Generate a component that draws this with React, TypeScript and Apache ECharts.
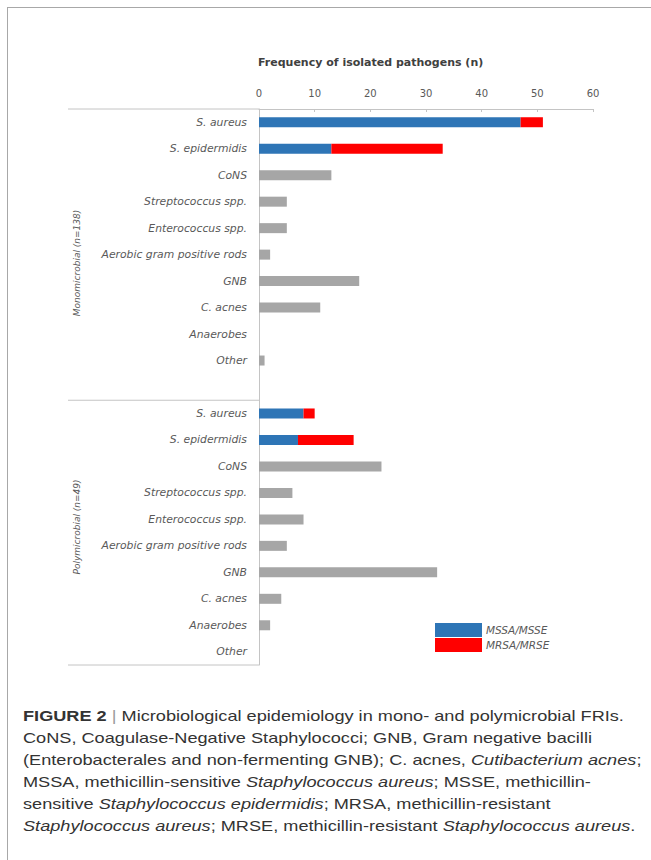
import React, { useEffect, useRef } from "react";
import * as echarts from "echarts";

// ---- data ----
const pathogenLabels = [
  "S. aureus",
  "S. epidermidis",
  "CoNS",
  "Streptococcus spp.",
  "Enterococcus spp.",
  "Aerobic gram positive rods",
  "GNB",
  "C. acnes",
  "Anaerobes",
  "Other",
];
const groupLabels = ["Monomicrobial (n=138)", "Polymicrobial (n=49)"];
const seriesNames = ["MSSA/MSSE", "MRSA/MRSE"];
// S. aureus, S. epidermidis
const monoSensitive = [47, 13];
const monoResistant = [4, 20];
// CoNS .. Other
const monoOtherCounts = [13, 5, 5, 2, 18, 11, 0, 1];
const polySensitive = [8, 7];
const polyResistant = [2, 10];
const polyOtherCounts = [22, 6, 8, 5, 32, 4, 2, 0];
const xTicks = { min: 0, max: 60, interval: 10 };
const titleText = "Frequency of isolated pathogens (n)";

// ---- build ----
const categories = [...pathogenLabels, "", ...pathogenLabels];
const dash = (n: number) => Array.from({ length: n }, () => "-" as any);
const sensitiveData = [...monoSensitive, ...dash(8), "-", ...polySensitive, ...dash(8)];
const resistantData = [...monoResistant, ...dash(8), "-", ...polyResistant, ...dash(8)];
const grayData = [...dash(2), ...monoOtherCounts, "-", ...dash(2), ...polyOtherCounts];

const GRID = { left: 259, top: 109, width: 334, height: 556 };
const LABEL_LEFT = 68;
const FONT = "'DejaVu Sans', sans-serif";
const LINE = "#c4c4c4";
const TEXT = "#595959";

function Chart() {
  const ref = useRef<HTMLDivElement>(null);
  useEffect(() => {
    if (!ref.current) return;
    const chart = echarts.init(ref.current, undefined, { renderer: "svg" });
    const slot = GRID.height / categories.length;
    const sepY = GRID.top + slot * (pathogenLabels.length + 1);
    const bottomY = GRID.top + GRID.height;
    chart.setOption({
      animation: false,
      title: {
        text: titleText,
        left: 258,
        top: 57,
        padding: 0,
        textStyle: { fontFamily: FONT, fontWeight: "bold", fontSize: 11, color: "#404040" },
      },
      legend: {
        data: seriesNames,
        orient: "vertical",
        left: 435,
        top: 623,
        padding: 0,
        itemWidth: 47,
        itemHeight: 14,
        itemGap: 1,
        icon: "rect",
        textStyle: { fontFamily: FONT, fontStyle: "italic", fontSize: 10.5, color: TEXT, padding: [0, 0, 0, -1] },
      },
      grid: { left: GRID.left, top: GRID.top, width: GRID.width, height: GRID.height, containLabel: false },
      xAxis: {
        type: "value",
        position: "top",
        min: xTicks.min,
        max: xTicks.max,
        interval: xTicks.interval,
        axisLine: { show: true, lineStyle: { color: LINE, width: 1 } },
        axisTick: { show: true, inside: true, length: 3, lineStyle: { color: LINE } },
        splitLine: { show: false },
        axisLabel: { color: TEXT, fontSize: 10, fontFamily: FONT, margin: 11 },
      },
      yAxis: {
        type: "category",
        inverse: true,
        data: categories,
        axisLine: { show: true, lineStyle: { color: LINE, width: 1 } },
        axisTick: { show: false },
        axisLabel: {
          interval: 0,
          color: TEXT,
          fontSize: 10.8,
          fontStyle: "italic",
          fontFamily: FONT,
          margin: 12,
        },
      },
      series: [
        {
          name: seriesNames[0],
          type: "bar",
          stack: "total",
          barWidth: 10,
          data: sensitiveData,
          itemStyle: { color: "#2E75B6" },
        },
        {
          name: seriesNames[1],
          type: "bar",
          stack: "total",
          barWidth: 10,
          data: resistantData,
          itemStyle: { color: "#FF0000" },
        },
        {
          name: "Other isolates",
          type: "bar",
          stack: "total",
          barWidth: 10,
          data: grayData,
          itemStyle: { color: "#A6A6A6" },
        },
      ],
      graphic: [
        {
          type: "line",
          shape: { x1: LABEL_LEFT, y1: GRID.top, x2: GRID.left, y2: GRID.top },
          style: { stroke: LINE, lineWidth: 1 },
        },
        {
          type: "line",
          shape: { x1: LABEL_LEFT, y1: sepY, x2: GRID.left, y2: sepY },
          style: { stroke: LINE, lineWidth: 1 },
        },
        {
          type: "line",
          shape: { x1: LABEL_LEFT, y1: bottomY, x2: GRID.left, y2: bottomY },
          style: { stroke: LINE, lineWidth: 1 },
        },
        {
          type: "text",
          x: 77,
          y: 263,
          rotation: Math.PI / 2,
          style: {
            text: groupLabels[0],
            fontFamily: FONT,
            fontStyle: "italic",
            fontSize: 9,
            fill: TEXT,
            align: "center",
            verticalAlign: "middle",
          },
        },
        {
          type: "text",
          x: 77,
          y: 527,
          rotation: Math.PI / 2,
          style: {
            text: groupLabels[1],
            fontFamily: FONT,
            fontStyle: "italic",
            fontSize: 9,
            fill: TEXT,
            align: "center",
            verticalAlign: "middle",
          },
        },
      ],
    });
    return () => chart.dispose();
  }, []);
  return <div ref={ref} style={{ position: "absolute", left: 0, top: 0, width: 651, height: 690 }} />;
}

const captionStyle: React.CSSProperties = {
  position: "absolute",
  left: 23,
  top: 705,
  fontFamily: "'Liberation Sans', Arial, sans-serif",
  fontSize: 15,
  lineHeight: "22px",
  color: "#333",
  whiteSpace: "nowrap",
  transform: "scaleX(1.21)",
  transformOrigin: "0 0",
};

export default function App() {
  return (
    <div
      style={{
        position: "absolute",
        left: 0,
        top: 0,
        width: 651,
        height: 860,
        overflow: "hidden",
        background: "#fff",
      }}
    >
      <div
        style={{
          position: "absolute",
          left: 7,
          top: 7,
          width: 700,
          height: 900,
          borderLeft: "1px solid #a8a8a8",
          borderTop: "1px solid #a8a8a8",
        }}
      />
      <Chart />
      <div style={captionStyle}>
        <div>
          <b>FIGURE 2</b> <span style={{ color: "#999" }}>|</span> Microbiological epidemiology in mono- and
          polymicrobial FRIs.
        </div>
        <div>CoNS, Coagulase-Negative Staphylococci; GNB, Gram negative bacilli</div>
        <div>
          (Enterobacterales and non-fermenting GNB); C. acnes, <i>Cutibacterium acnes</i>;
        </div>
        <div>
          MSSA, methicillin-sensitive <i>Staphylococcus aureus</i>; MSSE, methicillin-
        </div>
        <div>
          sensitive <i>Staphylococcus epidermidis</i>; MRSA, methicillin-resistant
        </div>
        <div>
          <i>Staphylococcus aureus</i>; MRSE, methicillin-resistant <i>Staphylococcus aureus</i>.
        </div>
      </div>
    </div>
  );
}
